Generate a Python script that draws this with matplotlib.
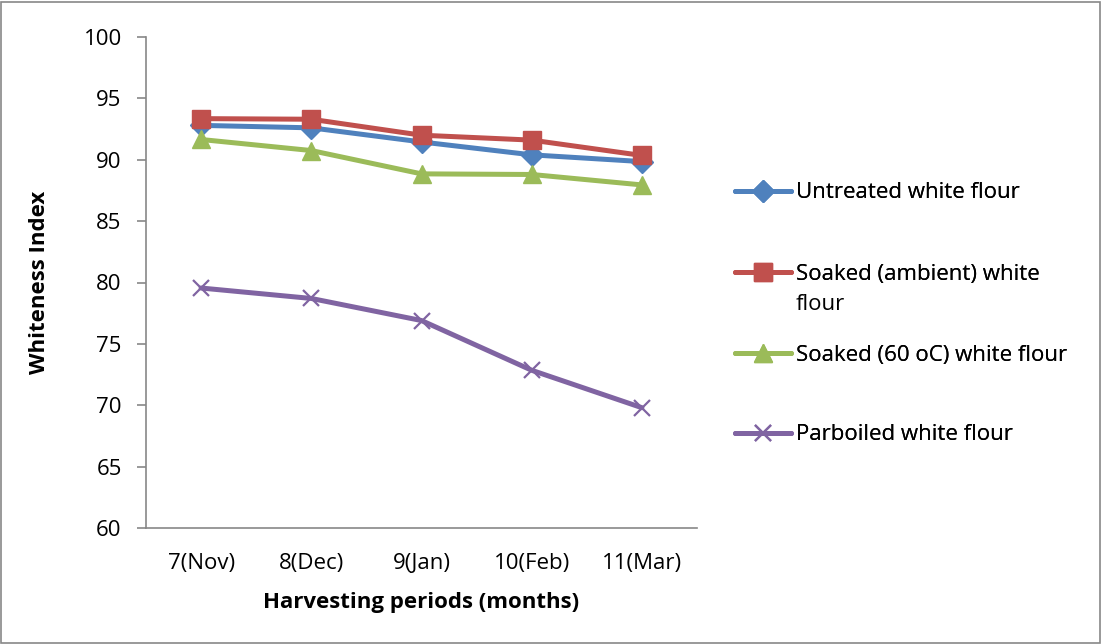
import matplotlib.pyplot as plt
from matplotlib.patches import Rectangle

plt.rcParams["font.family"] = ["Open Sans", "DejaVu Sans"]

# Data
periods = ["7(Nov)", "8(Dec)", "9(Jan)", "10(Feb)", "11(Mar)"]
untreated = [92.8, 92.6, 91.45, 90.4, 89.85]
soaked_ambient = [93.35, 93.3, 92.0, 91.6, 90.35]
soaked_60 = [91.65, 90.75, 88.85, 88.8, 87.95]
parboiled = [79.55, 78.7, 76.9, 72.85, 69.8]

series = [
    ("Untreated white flour", untreated, "#4F81BD", "D", 11),
    ("Soaked (ambient) white", soaked_ambient, "#C0504D", "s", 13),
    ("Soaked (60 oC) white flour", soaked_60, "#9BBB59", "^", 13),
    ("Parboiled white flour", parboiled, "#8064A2", "x", 12),
]
legend_y = [193, 274, 355, 435]  # pixel rows of the legend entries

W, H = 1102, 644
FS = 16
fig = plt.figure(figsize=(W / 100, H / 100), dpi=100)
ax = fig.add_axes([146 / W, 1 - 528 / H, (697 - 146) / W, (528 - 37) / H])

x = list(range(len(periods)))
lines = []
for label, vals, color, marker, ms in series:
    if marker == "x":
        ln, = ax.plot(x, vals, color=color, linewidth=3.6, marker=marker,
                      markersize=ms, markeredgewidth=1.6,
                      solid_capstyle="round")
    else:
        ln, = ax.plot(x, vals, color=color, linewidth=3.6, marker=marker,
                      markersize=ms, markeredgecolor=color,
                      solid_capstyle="round")
    lines.append(ln)

ax.set_xlim(-0.5, len(periods) - 0.5)
ax.set_ylim(60, 100)
ax.set_yticks(range(60, 101, 5))
ax.set_xticks(x)
ax.set_xticklabels(periods)
ax.tick_params(axis="x", length=0, pad=18, labelsize=FS)
ax.tick_params(axis="y", length=6.5, width=1.2, color="#878787", pad=11,
               labelsize=FS)

for side in ["top", "right"]:
    ax.spines[side].set_visible(False)
for side in ["left", "bottom"]:
    ax.spines[side].set_color("#878787")
    ax.spines[side].set_linewidth(1.2)

ax.set_xlabel("Harvesting periods (months)", fontsize=FS,
              fontweight="bold", labelpad=13)
ax.set_ylabel("Whiteness Index", fontsize=FS, fontweight="bold",
              labelpad=24)

# legend entries placed one by one, like the original layout
for ln, (label, *_), y in zip(lines, series, legend_y):
    lg = fig.legend([ln], [label], loc="center left",
                    bbox_to_anchor=(735 / W, 1 - y / H), frameon=False,
                    fontsize=FS, handlelength=2.5, handletextpad=0.25,
                    borderpad=0, borderaxespad=0)
    fig.add_artist(lg)
fig.text(796 / W, 1 - 304 / H, "flour", fontsize=FS, va="center")

# outer chart border
fig.patches.append(Rectangle((1 / W, 1 / H), 1 - 3 / W, 1 - 3 / H,
                             transform=fig.transFigure, fill=False,
                             edgecolor="#878787", linewidth=1.2))

fig.savefig("out.png", dpi=100)
